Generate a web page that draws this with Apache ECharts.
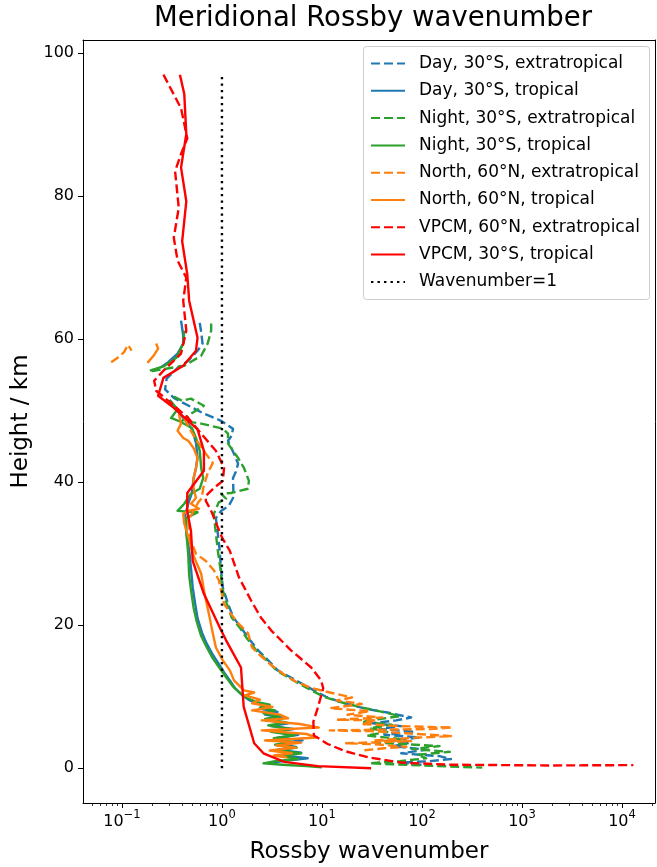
<!DOCTYPE html>
<html><head><meta charset="utf-8">
<script src="https://cdn.jsdelivr.net/npm/echarts@6/dist/echarts.min.js"></script>
<style>html,body{margin:0;padding:0;background:#fff}#c{width:657px;height:867px}</style>
</head><body><div id="c"></div>
<script>
// ---- data: [Rossby wavenumber, height km]; ['-','-'] = gap ----
const dayExtra = [[0.60,62.3],[0.62,61],[0.64,59.4],[0.57,58.4],[0.46,57],[0.36,56],[0.28,54.5],[0.27,53],[0.33,51.8],[0.45,50.8],[0.66,49.6],[0.98,48.6],[1.29,47.5],[1.25,46.5],[1.15,45.8],[1.32,44],[1.45,42.6],[1.38,41.5],[1.29,40.6],[1.3,39],[1.29,37.8],[1.17,36.7],[0.98,36],[0.87,35],[0.91,32.8],[0.95,30.4],[0.98,27.7],[1.02,25.3],[1.15,23],[1.3,21.1],[1.55,19.7],[1.82,18.3],[2.3,16.5],[2.9,15.1],[3.6,13.7],[4.9,12.7],[6.2,11.9],[8.3,10.9],[11,10],[16,9.2],[28,8.3],[45,7.8],[78,7.1],[55,6.7],[32,6.3],[62,5.9],[38,5.5],[85,5.1],[42,4.7],[95,4.3],[48,3.9],[72,3.5],[52,3.1],[110,2.6],[62,2.1],[150,1.7],[195,1.3],[120,1.0],[60,0.8],[100,0.5]];
const dayTrop = [[0.39,62.6],[0.41,60.5],[0.41,59.4],[0.36,58],[0.29,56.8],[0.24,56],['-','-'],[0.30,51.5],[0.36,50],[0.42,48.8],[0.50,47.5],[0.55,45.5],[0.57,43.5],[0.55,42],[0.52,40.5],[0.50,38.5],[0.46,37],[0.43,35.5],[0.44,33],[0.47,30.5],[0.49,28],[0.51,25.3],[0.54,23],[0.57,21],[0.63,19],[0.70,17.5],[0.80,16],[0.92,14.7],[1.05,13.4],[1.2,12.3],[1.35,11.2],[1.6,10.2],[1.9,9.5],[2.3,9],[3.0,8.6],[2.5,8.3],[3.6,7.9],[2.7,7.5],[4.0,7.1],[2.8,6.7],[4.6,6.3],[3.1,5.9],[5.2,5.5],[3.3,5.1],[5.8,4.7],[3.6,4.3],[6.4,3.9],[3.8,3.4],[5.5,3.0],[3.6,2.6],[6.2,2.2],[4.0,1.8],[7.2,1.4],[4.5,1.1],[3.2,0.8]];
const nightExtra = [[0.78,62.2],[0.78,61.2],[0.72,59.4],[0.62,57.7],[0.42,56.3],[0.21,55.6],[0.19,55.5],['-','-'],[0.33,52],[0.40,51.4],[0.49,51.7],[0.66,50.7],[0.49,49.6],[0.40,48.6],[0.62,48.2],[1.02,47.5],[1.15,46.8],[1.15,45.4],[1.45,43.4],[1.66,42],[1.86,40.2],[1.82,39.1],[1.23,38.5],[0.98,38.4],[1.1,37.7],[0.93,37.2],[0.83,35.6],[0.87,32.8],[0.91,30.4],[0.97,27.7],[1.0,25.3],[1.12,23],[1.25,21.1],[1.5,19.7],[1.75,18.3],[2.2,16.5],[2.8,15.1],[3.5,13.7],[4.6,12.7],[5.8,11.9],[7.8,10.9],[10.5,10],[15,9.3],[25,8.5],[40,7.9],[60,7.3],[38,6.9],[25,6.5],[50,6.1],[30,5.6],[45,5.1],[28,4.6],[60,4.1],[35,3.6],[150,3.1],[80,2.7],[190,2.3],[90,1.9],[110,1.4],[60,1.0],[30,0.7],[100,0.4],[400,0.1]];
const nightTrop = [[0.42,61.2],[0.41,59.4],[0.35,57.4],[0.26,56.2],[0.19,55.6],['-','-'],[0.30,51.5],[0.36,50.2],[0.31,49],[0.38,48.5],[0.50,47.6],[0.55,46.2],[0.60,44.4],[0.62,42],[0.65,40.6],[0.60,39.1],[0.49,38.4],[0.42,37],[0.36,36],[0.57,35.8],[0.44,35],[0.44,33],[0.46,30],[0.47,27],[0.49,25],[0.52,22.5],[0.56,20.5],[0.62,18.5],[0.70,17],[0.80,15.5],[0.95,14],[1.12,12.6],[1.28,11.5],[1.5,10.6],[1.8,9.8],[2.2,9.3],[3.0,8.9],[2.4,8.5],[3.4,8.1],[2.6,7.7],[3.8,7.3],[2.7,6.9],[4.4,6.4],[2.9,6.0],[4.8,5.5],[3.1,5.1],[5.3,4.6],[3.3,4.2],[5.0,3.7],[3.4,3.3],[5.6,2.9],[3.5,2.5],[6.2,2.1],[4.0,1.7],[5.8,1.3],[3.4,1.0],[2.6,0.7],[4,0.5],[7,0.3],[10,0.15]];
const northExtra = [[0.078,56.8],[0.092,57.5],[0.105,58.2],[0.115,59.2],[0.125,58.4],['-','-'],[0.42,49],[0.47,47.6],[0.55,46],[0.69,44],[0.81,42.7],[0.72,41.3],[0.65,39.2],[0.63,37.8],[0.58,37.2],[0.52,36],[0.46,34.6],[0.49,31.8],[0.55,30],[0.69,29],[0.83,27.7],[0.93,26.3],[0.98,24.9],[1.05,23],[1.23,21.6],[1.45,20.3],[1.82,18.9],[2.0,16.9],[2.5,15.6],[3.2,14.3],[4.2,13.1],[5.5,12.1],[8,11.2],[12,10.6],[20,9.9],[14,9.5],[25,9.0],[12,8.4],[30,8.0],[18,7.5],[40,7.1],[14,6.8],[35,6.7],[25,6.2],[60,5.9],[200,5.7],[120,5.5],[12,5.3],[31,5.2],[70,4.9],[200,4.5],[90,4.3],[33,3.9],[78,3.8],[17,3.5],[31,3.4],[70,3.0],[42,2.8],[25,2.5]];
const northTrop = [[0.22,59.4],[0.23,58.7],[0.21,57.8],[0.18,56.7],['-','-'],[0.37,49.6],[0.39,48.2],[0.36,47.2],[0.41,46.2],[0.46,45.8],[0.52,44.8],[0.57,43.4],[0.55,42],[0.52,40.6],[0.52,39.2],[0.55,37.8],[0.49,37],[0.59,36.3],[0.46,36],[0.41,35.6],[0.42,34.2],[0.47,32],[0.51,30],[0.62,27.2],[0.67,24.4],[0.74,21.6],[0.81,18.9],[0.87,16.9],[1.02,15.1],[1.2,13.7],[1.32,12.3],[1.66,10.9],[2.1,10.6],[1.7,10.2],[2.4,9.6],[2.0,9.1],[3.2,8.6],[2.0,8.1],[3.8,7.5],[4.6,7.0],[2.5,6.7],[6,6.2],[9.3,5.7],[2.5,5.3],[7,4.8],[9,4.3],[2.7,3.9],[6.2,3.6],[3.5,3.2],[5.5,2.9],[3,2.5],[5,2.1],[3.3,1.8],[4.5,1.5]];
const vpcmExtra = [[0.26,97],[0.39,92.3],[0.45,88.1],[0.39,85.9],[0.34,83.5],[0.37,78.4],[0.33,74.2],[0.36,71],[0.44,68.6],[0.41,65.4],[0.44,61.2],[0.39,58],[0.26,55.6],[0.21,54.2],[0.22,52.8],[0.29,51.4],[0.46,49],[0.62,46.8],[0.87,44.4],[1.05,42],[1.02,40.2],[0.83,39.2],[0.69,38.1],[0.69,37.4],[0.78,36],[0.91,33.7],[1.0,32.3],[1.2,30.4],[1.48,26.7],[1.95,23.5],[2.45,21.1],[3.1,19.3],[4.9,16.5],[7.8,14.1],[9.8,12.3],[10.3,11.2],[9.1,8.5],[8.2,6.5],[8.3,4.6],[11.4,3.4],[17,2.4],[30,1.5],[62,0.8],[195,0.5],[1950,0.4],[13000,0.45]];
const vpcmTrop = [[0.38,97],[0.42,94.3],[0.44,88.7],[0.39,84],[0.44,79.3],[0.40,73.7],[0.45,69.1],[0.47,65.4],[0.57,60.2],[0.55,58.4],[0.41,56.3],[0.26,54.6],[0.23,52.1],[0.33,50.4],[0.45,48.7],[0.57,47.4],[0.66,44.4],[0.66,41.6],[0.45,38.5],[0.45,36],[0.49,33.2],[0.51,29],[0.66,24.4],[0.98,19.3],[1.1,17.9],[1.55,14.1],[1.65,8.6],[2.1,3.5],[2.6,2.1],[4.2,0.9],[9.1,0.3],[31,0]];
const waveOne = [[1,0],[1,97]];

const seriesNames = ['Day, 30°S, extratropical','Day, 30°S, tropical','Night, 30°S, extratropical','Night, 30°S, tropical','North, 60°N, extratropical','North, 60°N, tropical','VPCM, 60°N, extratropical','VPCM, 30°S, tropical','Wavenumber=1'];
const xMajorTicks = [0.1,1,10,100,1000,10000];
const xMinorTicks = [0.05,0.06,0.07,0.08,0.09,0.2,0.3,0.4,0.5,0.6,0.7,0.8,0.9,2,3,4,5,6,7,8,9,20,30,40,50,60,70,80,90,200,300,400,500,600,700,800,900,2000,3000,4000,5000,6000,7000,8000,9000,20000];
const yTicks = [0,20,40,60,80,100];

const FONT = 'DejaVu Sans';
const X_MIN = 0.0408, X_MAX = 21380, Y_MIN = -4.85, Y_MAX = 101.85;
const DASH = [9,4], DOT = [2.4,4.1];
const LW = 2.4;

const styles = [
  ['#1f77b4', DASH], ['#1f77b4','solid'],
  ['#2ca02c', DASH], ['#2ca02c','solid'],
  ['#ff7f0e', DASH], ['#ff7f0e','solid'],
  ['#ff0000', DASH], ['#ff0000','solid'],
  ['#000000', DOT]
];
const dataList = [dayExtra, dayTrop, nightExtra, nightTrop, northExtra, northTrop, vpcmExtra, vpcmTrop, waveOne];

const series = dataList.map((d, i) => ({
  type: 'line', name: seriesNames[i], data: d,
  xAxisIndex: 0, yAxisIndex: 0,
  symbol: 'none', showSymbol: false, connectNulls: false,
  silent: true, animation: false, emphasis: {disabled: true},
  itemStyle: {color: styles[i][0]},
  lineStyle: {color: styles[i][0], width: LW, type: styles[i][1], join: 'round', cap: 'butt'},
  z: 2 + i
}));

const chart = echarts.init(document.getElementById('c'), null, {renderer: 'canvas'});
chart.setOption({
  animation: false,
  backgroundColor: '#fff',
  textStyle: {fontFamily: FONT},
  graphic: [{
    type: 'text', x: 373, y: 19,
    style: {text: 'Meridional Rossby wavenumber', font: '27.5px "DejaVu Sans"', fill: '#000', align: 'center', verticalAlign: 'middle'}
  }, {
    type: 'rect', z: 15, silent: true,
    shape: {x: 363.5, y: 46.5, width: 286, height: 253, r: 3},
    style: {fill: '#ffffff', stroke: '#cccccc', lineWidth: 1}
  }],
  grid: {left: 83, right: 2, top: 40, bottom: 64, containLabel: false, outerBoundsMode: 'none'},
  legend: {
    orient: 'vertical', left: 363, top: 46,
    data: seriesNames,
    itemWidth: 34, itemHeight: 17, itemGap: 10.3,
    padding: [9, 8, 11, 7],
    itemStyle: {color: 'rgba(0,0,0,0)', borderWidth: 0, opacity: 0},
    textStyle: {fontFamily: FONT, fontSize: 17, color: '#000', padding: [0,0,0,9], lineHeight: 17},
    selectedMode: false, z: 20
  },
  xAxis: [{
    type: 'log', logBase: 10, min: X_MIN, max: X_MAX, position: 'bottom',
    axisLine: {show: true, onZero: false, lineStyle: {color: '#000', width: 1}},
    axisTick: {show: true, length: 5, customValues: xMajorTicks, lineStyle: {color: '#000', width: 1}},
    axisLabel: {
      customValues: xMajorTicks, margin: 6, color: '#000',
      formatter: function (v) {
        const e = Math.round(Math.log10(v));
        return '{b|10}{s|' + (e < 0 ? '\u2212' + (-e) : e) + '}';
      },
      rich: {
        b: {fontFamily: FONT, fontSize: 16, color: '#000', lineHeight: 21, verticalAlign: 'bottom'},
        s: {fontFamily: FONT, fontSize: 11.5, color: '#000', lineHeight: 12, verticalAlign: 'top'}
      }
    },
    splitLine: {show: false},
    name: 'Rossby wavenumber', nameLocation: 'middle', nameGap: 38,
    nameTextStyle: {fontFamily: FONT, fontSize: 23, color: '#000'}
  }, {
    type: 'log', logBase: 10, min: X_MIN, max: X_MAX, position: 'bottom',
    axisLine: {show: false, onZero: false},
    axisTick: {show: true, length: 3, customValues: xMinorTicks, lineStyle: {color: '#000', width: 0.8}},
    axisLabel: {show: false}, splitLine: {show: false}
  }, {
    type: 'log', logBase: 10, min: X_MIN, max: X_MAX, position: 'top',
    axisLine: {show: true, onZero: false, lineStyle: {color: '#000', width: 1}},
    axisTick: {show: false}, axisLabel: {show: false}, splitLine: {show: false}
  }],
  yAxis: [{
    type: 'value', min: Y_MIN, max: Y_MAX, position: 'left',
    axisLine: {show: true, onZero: false, lineStyle: {color: '#000', width: 1}},
    axisTick: {show: true, length: 5, customValues: yTicks, lineStyle: {color: '#000', width: 1}},
    axisLabel: {customValues: yTicks, margin: 9, color: '#000', fontFamily: FONT, fontSize: 16},
    splitLine: {show: false},
    name: 'Height / km', nameLocation: 'middle', nameGap: 48, nameRotate: 90,
    nameTextStyle: {fontFamily: FONT, fontSize: 23, color: '#000'}
  }, {
    type: 'value', min: Y_MIN, max: Y_MAX, position: 'right',
    axisLine: {show: true, onZero: false, lineStyle: {color: '#000', width: 1}},
    axisTick: {show: false}, axisLabel: {show: false}, splitLine: {show: false}
  }],
  series: series
});
</script></body></html>
